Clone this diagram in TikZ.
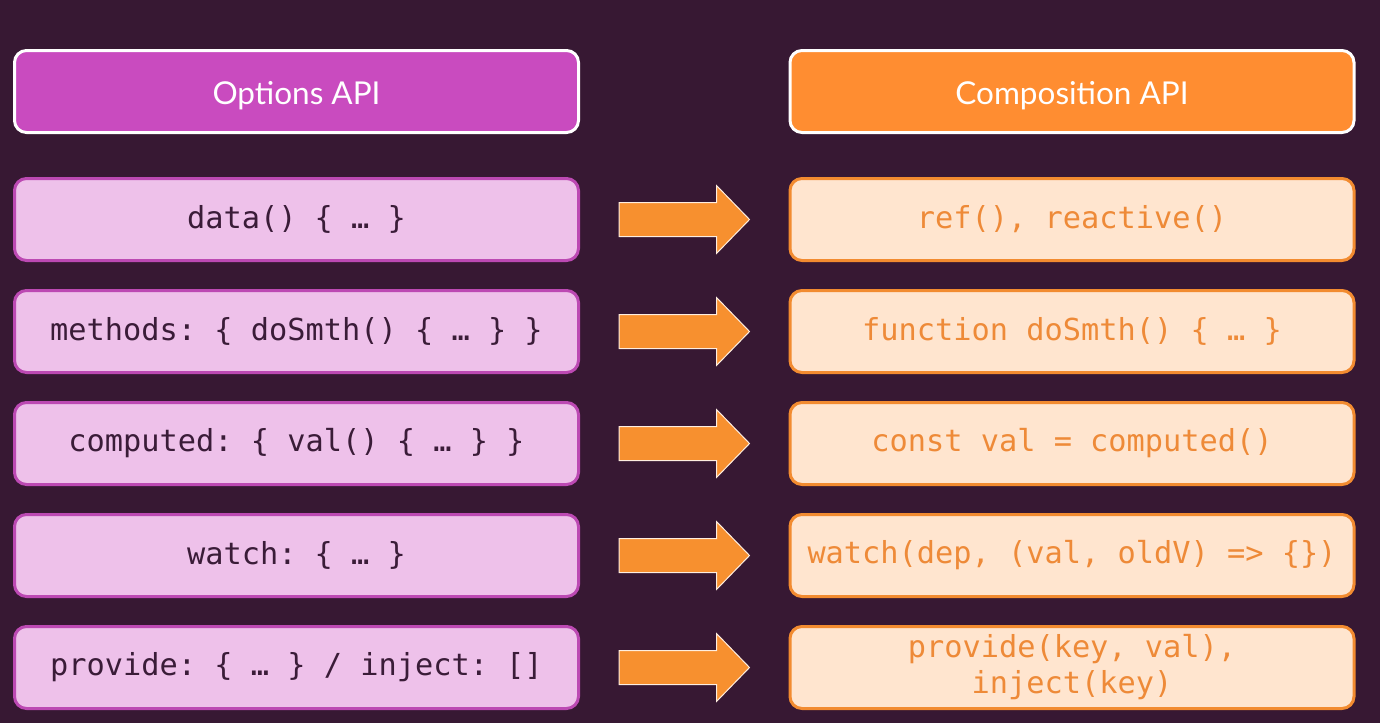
\documentclass[tikz,border=0pt]{standalone}
\usepackage{fontspec}
\setmainfont{Lato}
\setmonofont{DejaVu Sans Mono}
\usetikzlibrary{calc}

\definecolor{bgcol}{HTML}{371833}
\definecolor{optHead}{HTML}{C94BBF}
\definecolor{optFill}{HTML}{EEC1EA}
\definecolor{optLine}{HTML}{BC49B3}
\definecolor{optText}{HTML}{3A1C38}
\definecolor{compHead}{HTML}{FF8D31}
\definecolor{compFill}{HTML}{FFE5CF}
\definecolor{compLine}{HTML}{F28B30}
\definecolor{compText}{HTML}{EE8A38}
\definecolor{arrowFill}{HTML}{F7902F}

\tikzset{
  headbox/.style={draw=white, line width=3pt, rounded corners=12pt,
    minimum width=564pt, minimum height=82pt, inner sep=0pt,
    text height=26pt, text depth=0pt,
    text=white, font=\fontsize{31.5}{36}\selectfont},
  optHeadbox/.style={headbox, fill=optHead},
  compHeadbox/.style={headbox, fill=compHead},
  rowbox/.style={line width=3pt, rounded corners=12pt,
    minimum width=564pt, minimum height=82pt, inner sep=0pt, align=center,
    font=\ttfamily\fontsize{30.3}{36}\selectfont},
  optbox/.style={rowbox, draw=optLine, fill=optFill, text=optText},
  compbox/.style={rowbox, draw=compLine, fill=compFill, text=compText},
  blockarrow/.style={fill=arrowFill, draw=white!85!arrowFill, line width=1pt, line join=miter}
}

\begin{document}
\begin{tikzpicture}[x=1pt,y=-1pt]
  \fill[bgcol] (0,0) rectangle (1380,723);
  \useasboundingbox (0,0) rectangle (1380,723);

  % column headings
  \node[optHeadbox]  (hL) at (296.5,91.5) {Options API};
  \node[compHeadbox] (hR) at (1072,91.5)  {Composition API};

  % Options API rows
  \node[optbox] (L1) at (296.5,219.5) {data() \{ … \}};
  \node[optbox] (L2) at (296.5,331.5) {methods: \{ doSmth() \{ … \} \}};
  \node[optbox] (L3) at (296.5,443.5) {computed: \{ val() \{ … \} \}};
  \node[optbox] (L4) at (296.5,555.5) {watch: \{ … \}};
  \node[optbox] (L5) at (296.5,667.5) {provide: \{ … \} / inject: []};

  % Composition API rows
  \node[compbox] (R1) at (1072,219.5) {ref(), reactive()};
  \node[compbox] (R2) at (1072,331.5) {function doSmth() \{ … \}};
  \node[compbox] (R3) at (1072,443.5) {const val = computed()};
  \node[compbox] (R4) at (1072,555.5) {watch(dep, (val, oldV) => \{\})};
  \node[compbox] (R5) at (1072,667.5) {provide(key, val),\\inject(key)};

  % block arrows from each option to its composition counterpart
  \foreach \i in {1,...,5}{
    \draw[blockarrow]
      ($(L\i.east)+(39,-17)$) -- ($(R\i.west)+(-72,-17)$)
      -- ($(R\i.west)+(-72,-34)$) -- ($(R\i.west)+(-39,0)$)
      -- ($(R\i.west)+(-72,34)$) -- ($(R\i.west)+(-72,17)$)
      -- ($(L\i.east)+(39,17)$) -- cycle;
  }
\end{tikzpicture}
\end{document}
